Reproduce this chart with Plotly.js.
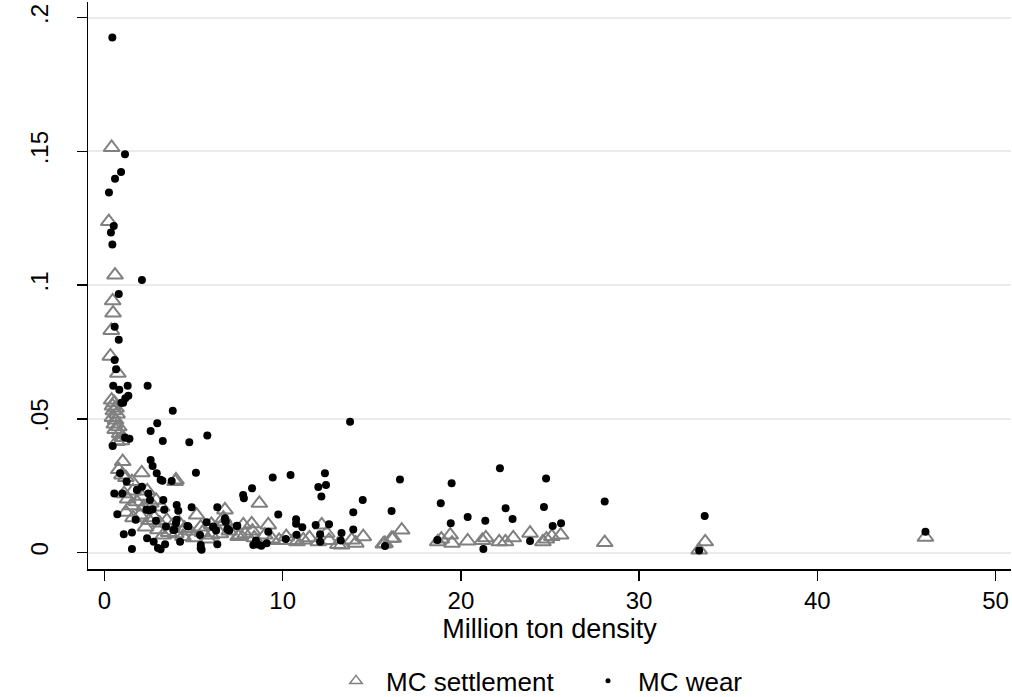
<!DOCTYPE html>
<html>
<head>
<meta charset="utf-8">
<script src="https://cdn.plot.ly/plotly-3.0.1.min.js"></script>
<style>html,body{margin:0;padding:0;background:#fff;}#chart{width:1012px;height:697px;}</style>
</head>
<body>
<div id="chart"></div>
<script>
// MC settlement (triangles)
var settleX = [0.40,0.24,0.59,0.46,0.48,0.38,0.33,0.75,
  0.40,0.55,0.45,0.65,0.50,0.70,0.45,0.62,0.55,0.80,0.60,0.85,1.00,0.95,0.70,
  1.02,0.80,0.98,2.09,1.54,1.20,4.01,3.96,
  1.10,1.30,1.60,1.80,2.10,2.40,1.50,2.20,2.60,2.90,3.20,
  1.20,1.60,2.00,2.50,2.80,3.10,3.50,3.80,4.20,4.50,2.30,3.00,3.60,4.00,4.80,5.17,5.50,6.00,6.50,6.76,6.67,6.76,7.00,7.50,7.79,7.90,8.26,8.30,8.69,8.40,9.00,9.19,9.40,9.80,10.20,10.60,10.80,11.16,11.50,12.00,12.19,12.47,12.60,13.10,13.30,13.87,14.10,14.52,5.00,5.80,4.40,3.30,5.40,6.00,7.60,
  15.65,15.74,16.11,16.20,16.68,18.70,18.90,19.40,19.50,20.38,21.20,21.40,22.15,22.50,22.94,23.88,24.60,24.80,25.10,25.60,28.07,33.37,33.71,46.07];
var settleY = [0.1514,0.1237,0.1037,0.0941,0.0895,0.0830,0.0734,0.0670,
  0.0570,0.0560,0.0548,0.0540,0.0530,0.0518,0.0505,0.0495,0.0480,0.0470,0.0460,0.0445,0.0430,0.0418,0.0415,
  0.0340,0.0310,0.0290,0.0298,0.0265,0.0280,0.0271,0.0265,
  0.0220,0.0200,0.0230,0.0190,0.0210,0.0230,0.0175,0.0170,0.0185,0.0195,0.0170,
  0.0150,0.0130,0.0140,0.0120,0.0130,0.0110,0.0120,0.0100,0.0110,0.0090,0.0095,0.0085,0.0075,0.0070,0.0080,0.0140,0.0075,0.0065,0.0070,0.0159,0.0128,0.0115,0.0080,0.0060,0.0103,0.0070,0.0107,0.0080,0.0184,0.0055,0.0065,0.0103,0.0050,0.0045,0.0059,0.0045,0.0040,0.0047,0.0055,0.0040,0.0103,0.0072,0.0045,0.0030,0.0028,0.0047,0.0035,0.0059,0.0055,0.0050,0.0060,0.0065,0.0095,0.0105,0.0065,
  0.0032,0.0034,0.0053,0.0053,0.0084,0.0040,0.0050,0.0065,0.0035,0.0043,0.0045,0.0055,0.0040,0.0040,0.0055,0.0072,0.0040,0.0050,0.0060,0.0065,0.0037,0.0009,0.0040,0.0057];

// MC wear (dots)
var wearX = [0.44,1.15,0.93,0.59,0.25,0.52,0.36,0.44,2.10,0.80,0.57,0.80,0.57,0.65,
  0.49,0.83,1.30,1.34,2.42,0.95,1.05,1.17,3.83,2.96,2.59,3.27,4.76,5.77,1.15,1.40,0.46,
  2.59,2.70,2.93,3.15,3.25,3.77,5.13,0.87,1.24,0.55,1.00,
  1.82,2.10,2.46,2.55,2.35,2.50,2.70,3.30,3.35,4.05,4.14,4.89,6.33,6.76,6.80,
  0.72,1.75,2.89,4.05,4.01,3.92,5.73,6.10,6.26,6.78,6.90,7.00,4.65,
  1.08,1.54,1.54,2.39,2.76,3.00,3.15,3.40,3.45,3.86,4.24,4.70,5.36,5.40,5.40,5.45,6.33,6.10,6.91,7.42,7.45,
  7.78,7.82,8.28,9.44,10.44,12.37,12.00,12.43,12.17,13.78,9.75,10.75,10.75,11.10,11.85,12.60,13.96,13.96,9.19,10.78,10.17,12.10,12.10,13.30,13.26,8.50,8.60,8.80,9.10,8.35,14.49,16.11,16.58,15.74,
  18.87,19.48,19.43,18.68,20.38,21.37,21.26,22.19,22.51,22.90,23.88,24.78,24.66,25.15,25.62,28.07,33.68,33.37,46.07];
var wearY = [0.1925,0.1489,0.1422,0.1397,0.1346,0.1221,0.1196,0.1151,0.1019,0.0966,0.0844,0.0795,0.0720,0.0685,
  0.0623,0.0608,0.0623,0.0586,0.0623,0.0560,0.0560,0.0577,0.0530,0.0483,0.0454,0.0417,0.0412,0.0437,0.0430,0.0425,0.0398,
  0.0346,0.0323,0.0296,0.0272,0.0268,0.0267,0.0298,0.0296,0.0265,0.0221,0.0221,
  0.0234,0.0246,0.0221,0.0196,0.0160,0.0158,0.0162,0.0196,0.0160,0.0178,0.0156,0.0169,0.0169,0.0128,0.0115,
  0.0143,0.0122,0.0119,0.0122,0.0109,0.0084,0.0113,0.0094,0.0082,0.0118,0.0088,0.0082,0.0099,
  0.0068,0.0075,0.0013,0.0053,0.0040,0.0017,0.0012,0.0031,0.0097,0.0084,0.0040,0.0097,0.0065,0.0028,0.0016,0.0010,0.0031,0.0097,0.0087,0.0099,0.0100,
  0.0215,0.0203,0.0240,0.0280,0.0290,0.0296,0.0245,0.0252,0.0209,0.0489,0.0142,0.0124,0.0107,0.0094,0.0103,0.0106,0.0150,0.0086,0.0078,0.0066,0.0050,0.0068,0.0040,0.0073,0.0045,0.0045,0.0030,0.0025,0.0035,0.0028,0.0196,0.0155,0.0273,0.0024,
  0.0184,0.0259,0.0109,0.0047,0.0133,0.0119,0.0013,0.0315,0.0165,0.0125,0.0043,0.0277,0.0170,0.0099,0.0109,0.0191,0.0136,0.0007,0.0078];

var seriesNames = ['MC settlement', 'MC wear'];
var xTickVals = [0, 10, 20, 30, 40, 50];
var yTickVals = [0, 0.05, 0.1, 0.15, 0.2];
var yTickText = ['0', '.05', '.1', '.15', '.2'];
var xTitle = 'Million ton density';

var FONT = 'Liberation Sans, Arial, Helvetica, sans-serif';
var GRAY = '#808080';

var traces = [
  {x: settleX, y: settleY, type: 'scatter', mode: 'markers', name: seriesNames[0], showlegend: false, legendgroup: 'a',
   marker: {symbol: 'triangle-up-open', size: 14, color: GRAY, line: {width: 2, color: GRAY}}, cliponaxis: false},
  {x: wearX, y: wearY, type: 'scatter', mode: 'markers', name: seriesNames[1], showlegend: false, legendgroup: 'b',
   marker: {symbol: 'circle', size: 8, color: '#000000'}, cliponaxis: false},
  {x: [null], y: [null], type: 'scatter', mode: 'markers', name: seriesNames[0], legendgroup: 'a',
   marker: {symbol: 'triangle-up-open', size: 11, color: GRAY, line: {width: 1.5, color: GRAY}}},
  {x: [null], y: [null], type: 'scatter', mode: 'markers', name: seriesNames[1], legendgroup: 'b',
   marker: {symbol: 'circle', size: 5, color: '#000000'}}
];

var layout = {
  width: 1012, height: 697,
  margin: {l: 88, r: 1, t: 2, b: 128, autoexpand: false},
  paper_bgcolor: '#ffffff', plot_bgcolor: '#ffffff',
  font: {family: FONT, size: 24, color: '#000000'},
  showlegend: true,
  legend: {orientation: 'h', x: (326 - 88) / 923, xanchor: 'left', y: 0.023, yanchor: 'middle', yref: 'container',
           font: {family: FONT, size: 26, color: '#000'}, itemwidth: 50, entrywidth: 187, traceorder: 'normal'},
  xaxis: {
    range: [-0.926, 50.87], tickvals: xTickVals, ticks: 'outside', ticklen: 10, tickwidth: 1.5, tickcolor: '#000',
    showline: true, linecolor: '#000', linewidth: 1.5, showgrid: false, zeroline: false,
    tickfont: {family: FONT, size: 24, color: '#000'}, ticklabelstandoff: 0,
    title: {text: xTitle, font: {family: FONT, size: 27, color: '#000'}, standoff: 0}
  },
  yaxis: {
    range: [-0.00617, 0.2058], tickvals: yTickVals, ticktext: yTickText, tickangle: -90,
    ticks: 'outside', ticklen: 10, tickwidth: 1.5, tickcolor: '#000',
    showline: true, linecolor: '#000', linewidth: 1.5, showgrid: true, gridcolor: '#ebebeb', gridwidth: 2,
    zeroline: false, tickfont: {family: FONT, size: 24, color: '#000'}, ticklabelstandoff: 19
  }
};

Plotly.newPlot('chart', traces, layout, {displayModeBar: false, staticPlot: true});
</script>
</body>
</html>
